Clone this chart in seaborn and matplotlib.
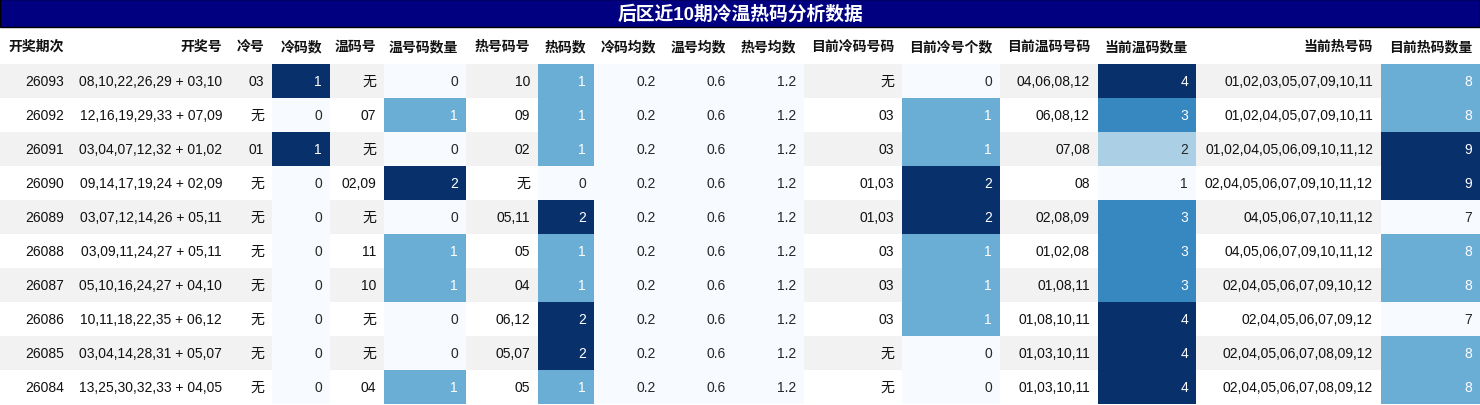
import numpy as np
import matplotlib
matplotlib.use("Agg")
import matplotlib.pyplot as plt
import seaborn as sns
from matplotlib.colors import ListedColormap

sns.set_theme(style="white")
plt.rcParams['font.family'] = ['Liberation Sans', 'Noto Sans CJK SC', 'DejaVu Sans']

title = "后区近10期冷温热码分析数据"
headers = ["开奖期次", "开奖号", "冷号", "冷码数", "温码号", "温号码数量", "热号码号", "热码数",
           "冷码均数", "温号均数", "热号均数", "目前冷码号码", "目前冷号个数", "目前温码号码",
           "当前温码数量", "当前热号码", "目前热码数量"]
periods = ["26093", "26092", "26091", "26090", "26089", "26088", "26087", "26086", "26085", "26084"]
draws = ["08,10,22,26,29 + 03,10", "12,16,19,29,33 + 07,09", "03,04,07,12,32 + 01,02",
         "09,14,17,19,24 + 02,09", "03,07,12,14,26 + 05,11", "03,09,11,24,27 + 05,11",
         "05,10,16,24,27 + 04,10", "10,11,18,22,35 + 06,12", "03,04,14,28,31 + 05,07",
         "13,25,30,32,33 + 04,05"]
cold_nums = ["03", "无", "01", "无", "无", "无", "无", "无", "无", "无"]
cold_cnt = [1, 0, 1, 0, 0, 0, 0, 0, 0, 0]
warm_nums = ["无", "07", "无", "02,09", "无", "11", "10", "无", "无", "04"]
warm_cnt = [0, 1, 0, 2, 0, 1, 1, 0, 0, 1]
hot_nums = ["10", "09", "02", "无", "05,11", "05", "04", "06,12", "05,07", "05"]
hot_cnt = [1, 1, 1, 0, 2, 1, 1, 2, 2, 1]
cold_avg = [0.2] * 10
warm_avg = [0.6] * 10
hot_avg = [1.2] * 10
cur_cold = ["无", "03", "03", "01,03", "01,03", "03", "03", "03", "无", "无"]
cur_cold_cnt = [0, 1, 1, 2, 2, 1, 1, 1, 0, 0]
cur_warm = ["04,06,08,12", "06,08,12", "07,08", "08", "02,08,09", "01,02,08", "01,08,11",
            "01,08,10,11", "01,03,10,11", "01,03,10,11"]
cur_warm_cnt = [4, 3, 2, 1, 3, 3, 3, 4, 4, 4]
cur_hot = ["01,02,03,05,07,09,10,11", "01,02,04,05,07,09,10,11", "01,02,04,05,06,09,10,11,12",
           "02,04,05,06,07,09,10,11,12", "04,05,06,07,10,11,12", "04,05,06,07,09,10,11,12",
           "02,04,05,06,07,09,10,12", "02,04,05,06,07,09,12", "02,04,05,06,07,08,09,12",
           "02,04,05,06,07,08,09,12"]
cur_hot_cnt = [8, 8, 9, 9, 7, 8, 8, 7, 8, 8]

columns = [periods, draws, cold_nums, cold_cnt, warm_nums, warm_cnt, hot_nums, hot_cnt,
           cold_avg, warm_avg, hot_avg, cur_cold, cur_cold_cnt, cur_warm, cur_warm_cnt,
           cur_hot, cur_hot_cnt]
edges = [0, 72, 230, 272, 330, 384, 466, 538, 594, 664, 734, 804, 902, 1000, 1098, 1196, 1381, 1480]

W, H = 1480, 406
fig = plt.figure(figsize=(W / 100, H / 100), dpi=100)
top_px, bot_px = 65, 405
n = len(periods)
stripe = np.array([[1 - (i % 2)] for i in range(n)])
stripe_cmap = ListedColormap(["#ffffff", "#f2f2f2"])

for ci, col in enumerate(columns):
    x0, x1 = edges[ci], edges[ci + 1]
    w = x1 - x0
    ax = fig.add_axes([x0 / W, 1 - bot_px / H, w / W, (bot_px - top_px) / H])
    numeric = not isinstance(col[0], str)
    if numeric:
        vals = np.array(col, dtype=float).reshape(-1, 1)
        vmin, vmax = vals.min(), vals.max()
        if vmax == vmin:
            vmax = vmin + 1
        labels = np.array([[f"{v:g}" if isinstance(v, float) else str(v)] for v in col])
        sns.heatmap(vals, cmap="Blues", vmin=vmin, vmax=vmax, annot=labels, fmt="",
                    cbar=False, ax=ax, annot_kws={"fontsize": 10}, linewidths=0)
    else:
        labels = np.array([[s] for s in col])
        sns.heatmap(stripe, cmap=stripe_cmap, vmin=0, vmax=1, annot=labels, fmt="",
                    cbar=False, ax=ax, annot_kws={"fontsize": 10, "color": "#111111"}, linewidths=0)
    for t in ax.texts:
        t.set_ha("right")
        t.set_x(1 - 8 / w)
    ax.set_xticks([]); ax.set_yticks([])
    for s in ax.spines.values():
        s.set_visible(False)
    fig.text((x1 - 8) / W, 1 - 47 / H, headers[ci], ha="right", va="center",
             fontsize=10, fontweight="bold", color="#111111")

# title bar
fig.patches.append(plt.Rectangle((0, 1 - 28 / H), 1, 28 / H, transform=fig.transFigure,
                                 facecolor="#000080", edgecolor="#000000", lw=1))
fig.text(0.5, 1 - 14 / H, title, ha="center", va="center", fontsize=13.5,
         fontweight="bold", color="white")

fig.savefig("out.png", dpi=100)
